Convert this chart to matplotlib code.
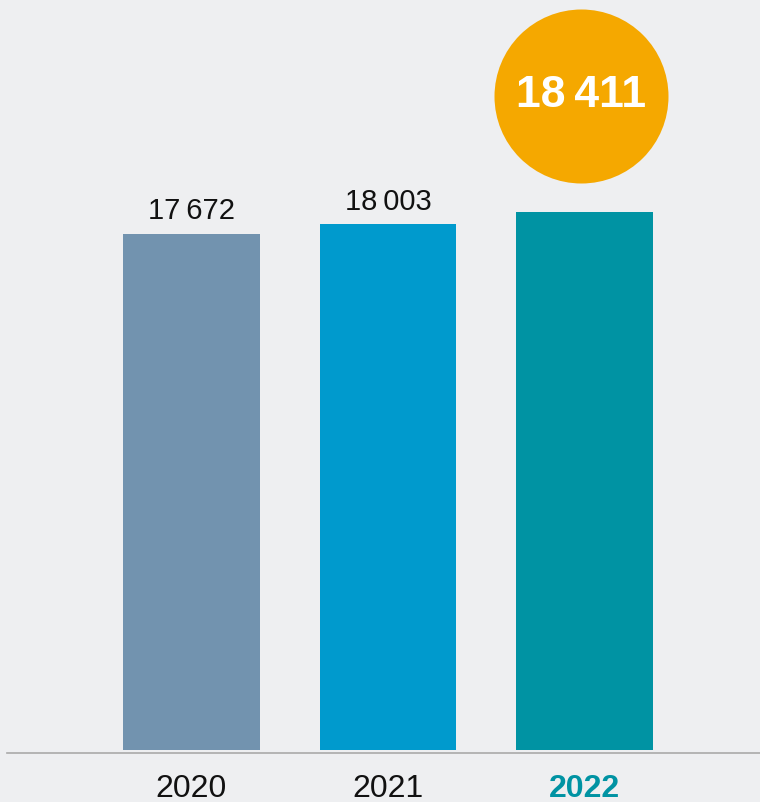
import matplotlib.pyplot as plt
from matplotlib.lines import Line2D
from matplotlib import font_manager

years = ['2020', '2021', '2022']
values = [17672, 18003, 18411]
value_labels = ['17\u2009672', '18\u2009003', '18\u2009411']
bar_colors = ['#7293AF', '#009ACD', '#0093A3']

bg = '#EEEFF1'
orange = '#F5A800'

names = {f.name for f in font_manager.fontManager.ttflist}
narrow = 'Liberation Sans Narrow' if 'Liberation Sans Narrow' in names else 'Liberation Sans'

fig = plt.figure(figsize=(7.6, 8.02), dpi=100, facecolor=bg)
ax = fig.add_axes([0, 52 / 802, 1, 750 / 802])
ax.set_facecolor(bg)

x = range(len(years))
ax.bar(x, values, width=0.697, color=bar_colors)

ax.set_xlim(-191.5 / 196.5, (760 - 191.5) / 196.5)
ax.set_ylim(0, 750 * 34.23)

# value labels on the first two bars
for i in range(2):
    ax.annotate(value_labels[i], (i, values[i]), xytext=(0, 6), textcoords='offset points',
                ha='center', va='bottom', fontsize=21, color='#111111',
                family=['Liberation Sans', 'DejaVu Sans'])

# highlighted circle for latest year
cy = (750 - 96) * 34.23
cx = 2 - 3.5 / 196.5
ax.scatter([cx], [cy], s=(174 * 0.72) ** 2, color=orange, zorder=3, linewidths=0)
ax.text(cx, cy, value_labels[2], ha='center', va='center', fontsize=32, color='white',
        fontweight='bold', family=['Liberation Sans', 'DejaVu Sans'], zorder=4)

for s in ax.spines.values():
    s.set_visible(False)
ax.set_yticks([])
ax.set_xticks(list(x))
ax.set_xticklabels(years, fontsize=23, family=narrow)
ax.tick_params(axis='x', length=0, pad=17)
lbls = ax.get_xticklabels()
lbls[2].set_color('#0093A3')
lbls[2].set_fontweight('bold')
for l in lbls[:2]:
    l.set_color('#111111')

fig.add_artist(Line2D([7 / 760, 1], [49 / 802, 49 / 802], color='#AAAAAA', lw=1.2))

fig.savefig('out.png', dpi=100, facecolor=bg)
